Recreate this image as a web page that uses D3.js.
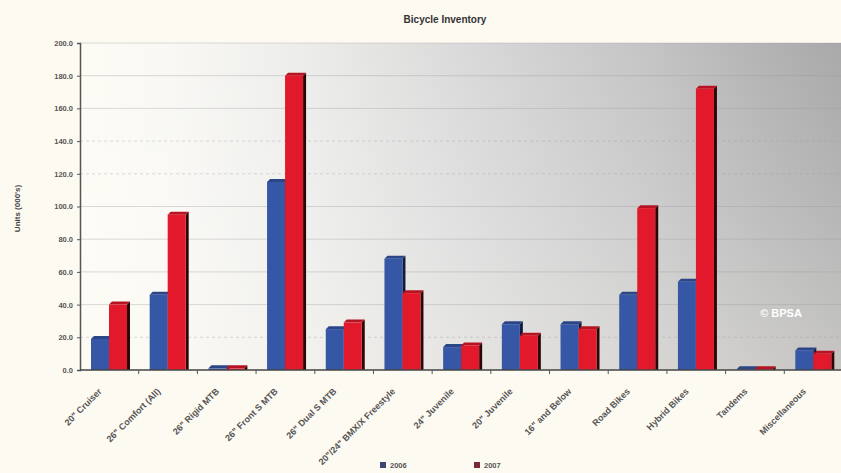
<!DOCTYPE html>
<html>
<head>
<meta charset="utf-8">
<script src="https://cdn.jsdelivr.net/npm/d3@7"></script>
<style>
  html, body { margin: 0; padding: 0; background: #fdfaf2; }
  svg { display: block; }
  text { font-family: "Liberation Sans Narrow", "Arial Narrow", "Liberation Sans", sans-serif; }
</style>
</head>
<body>
<svg id="chart" width="841" height="473"></svg>
<script>
// Bicycle inventory by category, two years side by side
const categories = [
  "20\" Cruiser", "26\" Comfort (All)", "26\" Rigid MTB", "26\" Front S MTB",
  "26\" Dual S MTB", "20\"/24\" BMX/X Freestyle", "24\" Juvenile", "20\" Juvenile",
  "16\" and Below", "Road Bikes", "Hybrid Bikes", "Tandems", "Miscellaneous"
];
const seriesNames = ["2006", "2007"];
const values2006 = [19, 46, 1, 115, 25, 68, 14, 28, 28, 46, 54, 0.5, 12];
const values2007 = [40, 95, 1, 180, 29, 47, 15, 21, 25, 99, 172, 0.5, 10];
const yTicks = [0, 20, 40, 60, 80, 100, 120, 140, 160, 180, 200];

const seriesColors = ["#3656a6", "#e2192a"];
const seriesSide = ["#141b3a", "#2a0808"];

const svg = d3.select("#chart");
const plotLeft = 80, plotRight = 843, plotTop = 43, plotBottom = 370;

const x = d3.scaleBand().domain(categories).range([plotLeft, plotRight]).paddingInner(0).paddingOuter(0);
const xs = d3.scaleBand().domain(seriesNames).range([11, 47]).padding(0);
const y = d3.scaleLinear().domain([0, 200]).range([plotBottom, plotTop]);

const defs = svg.append("defs");
const bg = defs.append("linearGradient").attr("id", "bg").attr("x1", 0).attr("x2", 1).attr("y1", 0).attr("y2", 0);
[[0, "#fdfbf4"], [0.12, "#f9f8f4"], [0.3, "#ececea"], [0.5, "#dadada"], [0.75, "#c4c4c4"], [0.9, "#b3b3b3"], [1, "#a9a9a9"]]
  .forEach(([o, c]) => bg.append("stop").attr("offset", o).attr("stop-color", c));
const fade = defs.append("linearGradient").attr("id", "fade").attr("x1", 0).attr("x2", 0).attr("y1", 0).attr("y2", 1);
[[0, "#ffffff", 0.0], [0.5, "#ffffff", 0.15], [1, "#fdfaf2", 0.35]]
  .forEach(([o, c, a]) => fade.append("stop").attr("offset", o).attr("stop-color", c).attr("stop-opacity", a));

// plot background
svg.append("rect").attr("x", plotLeft).attr("y", plotTop).attr("width", 841 - plotLeft).attr("height", plotBottom - plotTop).attr("fill", "url(#bg)");
svg.append("rect").attr("x", plotLeft).attr("y", plotTop).attr("width", 841 - plotLeft).attr("height", plotBottom - plotTop).attr("fill", "url(#fade)");

// horizontal gridlines
svg.append("g").selectAll("line").data(yTicks.filter(d => d > 0)).join("line")
  .attr("x1", plotLeft).attr("x2", 841)
  .attr("y1", d => y(d)).attr("y2", d => y(d))
  .attr("stroke", "#9a9a9a").attr("stroke-opacity", 0.35).attr("stroke-width", 1)
  .attr("stroke-dasharray", d => (d === 120 || d === 140 || d === 20) ? "3,3" : null);

// watermark
svg.append("text").attr("x", 781).attr("y", 317).attr("text-anchor", "middle")
  .attr("font-family", "Liberation Sans, Arial, sans-serif").attr("font-weight", "bold")
  .attr("font-size", 11).attr("fill", "#ffffff").text("\u00a9 BPSA");

// 3D-style bars
const dx = 3, dy = 3;
const groups = svg.append("g").selectAll("g").data(categories).join("g")
  .attr("transform", d => `translate(${x(d)},0)`);

seriesNames.forEach((s, si) => {
  const vals = si === 0 ? values2006 : values2007;
  const w = xs.bandwidth();
  groups.each(function(cat, i) {
    const g = d3.select(this);
    const x0 = xs(s), y0 = y(vals[i]), h = plotBottom - y0;
    // side face
    g.append("polygon")
      .attr("points", [[x0 + w, y0], [x0 + w + dx, y0 - dy], [x0 + w + dx, plotBottom], [x0 + w, plotBottom]].map(p => p.join(",")).join(" "))
      .attr("fill", seriesSide[si]);
    // top face
    g.append("polygon")
      .attr("points", [[x0, y0], [x0 + dx, y0 - dy], [x0 + w + dx, y0 - dy], [x0 + w, y0]].map(p => p.join(",")).join(" "))
      .attr("fill", d3.color(seriesColors[si]).darker(0.6));
    // front face
    g.append("rect").attr("x", x0).attr("y", y0).attr("width", w).attr("height", h)
      .attr("fill", seriesColors[si]);
  });
});

// y axis
const yAxis = d3.axisLeft(y).tickValues(yTicks).tickFormat(d3.format(".1f")).tickSize(3).tickPadding(4);
const gy = svg.append("g").attr("transform", `translate(${plotLeft},0)`).call(yAxis);
gy.select(".domain").attr("stroke", "#555").attr("stroke-width", 1.5);
gy.selectAll(".tick line").attr("stroke", "#555");
gy.selectAll(".tick text").attr("font-size", 7.5).attr("fill", "#555").attr("font-weight", "bold")
  .attr("font-family", "Liberation Sans Narrow, Liberation Sans, sans-serif");

// x axis baseline and ticks at category boundaries
svg.append("line").attr("x1", plotLeft).attr("x2", 841).attr("y1", plotBottom).attr("y2", plotBottom)
  .attr("stroke", "#444").attr("stroke-width", 1.5);
svg.append("g").selectAll("line").data(categories.slice(1)).join("line")
  .attr("x1", d => x(d)).attr("x2", d => x(d))
  .attr("y1", plotBottom).attr("y2", plotBottom + 4).attr("stroke", "#555");

// category labels
svg.append("g").selectAll("text").data(categories).join("text")
  .attr("transform", d => `translate(${x(d) + x.bandwidth() / 2 - 7},${plotBottom + 22}) rotate(-45)`)
  .attr("text-anchor", "end")
  .attr("font-size", 9).attr("font-weight", "bold").attr("fill", "#555")
  .text(d => d);

// axis title
svg.append("text").attr("transform", `translate(20,${(plotTop + plotBottom) / 2 + 2}) rotate(-90)`)
  .attr("text-anchor", "middle").attr("font-size", 8).attr("font-weight", "bold").attr("fill", "#444")
  .text("Units (000's)");

// chart title
svg.append("text").attr("x", 445).attr("y", 23).attr("text-anchor", "middle")
  .attr("font-size", 10).attr("font-weight", "bold").attr("fill", "#333")
  .text("Bicycle Inventory");

// legend
const legendX = [380, 474];
seriesNames.forEach((s, si) => {
  svg.append("rect").attr("x", legendX[si]).attr("y", 462).attr("width", 6).attr("height", 6)
    .attr("fill", si === 0 ? "#3a4570" : "#7a2a35");
  svg.append("text").attr("x", legendX[si] + 10).attr("y", 468)
    .attr("font-size", 7.5).attr("font-weight", "bold").attr("fill", "#555").text(s);
});
</script>
</body>
</html>
